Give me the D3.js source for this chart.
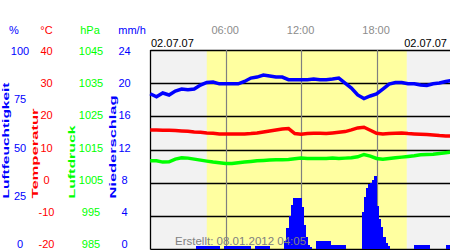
<!DOCTYPE html>
<html>
<head>
<meta charset="utf-8">
<script src="https://cdn.jsdelivr.net/npm/d3@7"></script>
<style>
    body { margin: 0; background: #fff; }
    svg { display: block; font-family: "Liberation Sans", Arial, sans-serif; }
</style>
</head>
<body>
<div id="chart"></div>
<script>

// WEATHER DAY CHART (02.07.07)

// half hour steps, in hours since midnight
const halfHours = [0, 0.5, 1, 1.5, 2, 2.5, 3, 3.5, 4, 4.5, 5, 5.5, 6, 6.5, 7, 7.5, 8, 8.5, 9, 9.5,
    10, 10.5, 11, 11.5, 12, 12.5, 13, 13.5, 14, 14.5, 15, 15.5, 16, 16.5, 17, 17.5, 18, 18.5, 19, 19.5,
    20, 20.5, 21, 21.5, 22, 22.5, 23, 23.5, 24];

// Luftfeuchtigkeit in %
const humidity = [78, 76.5, 78.4, 77.4, 79.4, 80.4, 80, 80.4, 82.4, 83.7, 83.9, 83, 83, 83, 83, 84.2,
    85.9, 86.4, 87.4, 86.9, 86.4, 86.4, 85.1, 85, 85, 85.1, 85.4, 85.1, 85, 85.4, 85.9, 83.4,
    80.9, 77.4, 75.6, 76.9, 77.9, 80.4, 82.9, 83.7, 83.7, 83, 83, 82.4, 82.2, 83, 83.4, 84.2, 84.7];

// Temperatur in °C
const temperature = [15.9, 15.9, 15.8, 15.8, 15.7, 15.6, 15.5, 15.3, 15.2, 15.0, 14.9, 14.7, 14.7, 14.7,
    14.7, 14.7, 14.8, 15.0, 15.3, 15.6, 15.9, 16.2, 16.3, 14.8, 14.6, 14.8, 14.9, 14.9, 14.8, 15.0,
    15.2, 15.4, 15.9, 16.5, 16.7, 15.8, 14.9, 14.7, 14.8, 14.9, 15.0, 14.8, 14.7, 14.6, 14.5, 14.4,
    14.2, 14.1, 14.1];

// Luftdruck in hPa
const pressure = [1011.6, 1011.6, 1011.2, 1011.3, 1012.1, 1012.5, 1012.4, 1012.1, 1011.8, 1011.5,
    1011.2, 1011.0, 1010.8, 1010.8, 1011.0, 1011.2, 1011.4, 1011.6, 1011.7, 1011.8, 1011.9, 1011.9,
    1012.0, 1012.2, 1012.4, 1012.3, 1012.3, 1012.3, 1012.3, 1012.4, 1012.3, 1012.4, 1012.5, 1012.8,
    1013.5, 1013.0, 1012.3, 1012.1, 1012.3, 1012.5, 1012.7, 1012.9, 1013.1, 1013.4, 1013.5, 1013.6,
    1013.8, 1014.0, 1014.2];

// Niederschlag in mm/h, one value per 10 minutes (144 values)
const precipitation = [
    0, 0, 0, 0, 0, 0, 0, 0, 0, 0, 0, 0, 0, 0, 0, 0, 0, 0, 0, 0, 0, 0,
    0.4, 0.4, 0.4, 0.4, 0.4, 0.4, 0.4, 0.4, 0.4, 0.4, 0.4,
    0, 0,
    0.4, 0.4, 0.4, 0.4, 0.4, 0.4, 0.4, 0.4, 0.4, 0.4, 0.4, 0.4, 0.4,
    0, 0,
    0.4, 0.4, 0.4, 0.4, 0.4, 0.4, 0.4,
    0, 0, 0, 0, 0, 0, 0,
    1.0, 2.5, 4.0, 5.3, 6.1, 6.2, 6.2, 6.2, 5.1, 2.9, 1.5, 0.5, 0.3,
    0, 0,
    1.0, 1.0, 1.0, 1.0, 1.0, 1.0, 1.0,
    0.5, 0.5, 0.5, 0.5, 0.5, 0.5, 0.5,
    0, 0, 0, 0, 0, 0, 0, 0,
    4.5, 6.3, 7.3, 7.8, 7.9, 8.3, 8.8, 5.2, 3.6, 2.6, 1.5, 0.7, 0.4,
    0, 0, 0, 0, 0, 0, 0, 0, 0, 0, 0, 0,
    0.5, 0.5, 0.5, 0.5, 0.5, 0.5, 0.5,
    0, 0, 0, 0, 0, 0, 0, 0,
    0.5, 0.5, 0.5
];

// daylight (sunrise, sunset) in hours
const daylight = [4.5, 20.4];

// axis ticks
const humTicks = [100, 75, 50, 25, 0];
const tempTicks = [40, 30, 20, 10, 0, -10, -20];
const presTicks = [1045, 1035, 1025, 1015, 1005, 995, 985];
const rainTicks = [24, 20, 16, 12, 8, 4, 0];
const timeTicks = [6, 12, 18];
const timeLabels = ["06:00", "12:00", "18:00"];

const dateLabel = "02.07.07";
const createdLabel = "Erstellt: 08.01.2012 04:05";


class WeatherVis {

    constructor(_parentElement) {
        this.parentElement = _parentElement;
        this.initVis();
    }

    initVis() {
        let vis = this;

        vis.width = 450;
        vis.height = 250;

        // plot area
        vis.top = 50;
        vis.bottom = 249;
        vis.left = 150.5;
        vis.right = 450;

        vis.svg = d3.select("#" + vis.parentElement).append("svg")
            .attr("width", vis.width)
            .attr("height", vis.height);

        // Scales
        vis.x = d3.scaleLinear().domain([0, 24]).range([150.2, 452]);
        vis.yHum = d3.scaleLinear().domain([0, 100]).range([vis.bottom, vis.top]);
        vis.yTemp = d3.scaleLinear().domain([-20, 40]).range([vis.bottom, vis.top]);
        vis.yPres = d3.scaleLinear().domain([985, 1045]).range([vis.bottom, vis.top]);
        vis.yRain = d3.scaleLinear().domain([0, 24]).range([vis.bottom, vis.top]);

        vis.updateVis();
    }

    updateVis() {
        let vis = this;

        // **************** BACKGROUND *****************

        vis.svg.append("rect")
            .attr("x", vis.left)
            .attr("y", vis.top)
            .attr("width", vis.right - vis.left)
            .attr("height", vis.bottom - vis.top)
            .attr("fill", "#f2f2f2");

        vis.svg.append("rect")
            .attr("x", vis.x(daylight[0]))
            .attr("y", vis.top)
            .attr("width", vis.x(daylight[1]) - vis.x(daylight[0]))
            .attr("height", vis.bottom - vis.top)
            .attr("fill", "#ffffa0");

        // horizontal grid
        vis.svg.append("g")
            .selectAll("line")
            .data(rainTicks)
            .enter()
            .append("line")
            .attr("x1", vis.left)
            .attr("x2", vis.right)
            .attr("y1", d => Math.round(vis.yRain(d)) + 0.5)
            .attr("y2", d => Math.round(vis.yRain(d)) + 0.5)
            .attr("stroke", "black")
            .attr("stroke-width", 1.3);

        // left border
        vis.svg.append("line")
            .attr("x1", vis.left).attr("x2", vis.left)
            .attr("y1", vis.top).attr("y2", vis.bottom + 0.5)
            .attr("stroke", "black")
            .attr("stroke-width", 1.3);

        // vertical time lines
        vis.svg.append("g")
            .selectAll("line")
            .data(timeTicks)
            .enter()
            .append("line")
            .attr("x1", d => Math.round(vis.x(d)) + 0.5)
            .attr("x2", d => Math.round(vis.x(d)) + 0.5)
            .attr("y1", vis.top)
            .attr("y2", vis.bottom)
            .attr("stroke", "#808080")
            .attr("stroke-width", 1.2);

        // **************** PRECIPITATION BARS *****************

        let barW = (vis.x(24) - vis.x(0)) / precipitation.length;

        vis.svg.append("g")
            .attr("shape-rendering", "crispEdges")
            .selectAll("rect")
            .data(precipitation)
            .enter()
            .append("rect")
            .attr("x", (d, i) => vis.x(0) + i * barW)
            .attr("y", d => vis.yRain(d))
            .attr("width", barW + 0.6)
            .attr("height", d => vis.bottom - vis.yRain(d))
            .attr("fill", "#0000ff");

        // created label
        vis.svg.append("text")
            .attr("x", 175)
            .attr("y", 245)
            .attr("font-size", 11.5)
            .attr("fill", "#808080")
            .text(createdLabel);

        // **************** LINES *****************

        let series = [
            {values: humidity, y: vis.yHum, color: "#0000ff"},
            {values: temperature, y: vis.yTemp, color: "#ff0000"},
            {values: pressure, y: vis.yPres, color: "#00ff00"}
        ];

        series.forEach(s => {
            vis.svg.append("path")
                .datum(s.values)
                .attr("fill", "none")
                .attr("stroke", s.color)
                .attr("stroke-width", 3.5)
                .attr("stroke-linejoin", "miter")
                .attr("d", d3.line()
                    .x((d, i) => vis.x(halfHours[i]))
                    .y(d => s.y(d)));
        });

        // **************** TEXT *****************

        // time labels on top
        vis.svg.append("g")
            .selectAll("text")
            .data(timeTicks)
            .enter()
            .append("text")
            .attr("x", d => vis.x(d) - 0.5)
            .attr("y", 34)
            .attr("text-anchor", "middle")
            .attr("font-size", 11)
            .attr("fill", "#8c8c8c")
            .text((d, i) => timeLabels[i]);

        vis.svg.append("text")
            .attr("x", 151)
            .attr("y", 47)
            .attr("font-size", 11)
            .attr("fill", "black")
            .text(dateLabel);

        vis.svg.append("text")
            .attr("x", 447)
            .attr("y", 47)
            .attr("text-anchor", "end")
            .attr("font-size", 11)
            .attr("fill", "black")
            .text(dateLabel);

        // left axes (labels only); tick labels sit a bit higher than the grid towards the bottom
        let axes = [
            {domain: [0, 100], ticks: humTicks, cx: 20, color: "#0000ff", unit: "%", ux: 14, name: "Luftfeuchtigkeit", nx: 9, nlen: 116},
            {domain: [-20, 40], ticks: tempTicks, cx: 46.5, color: "#ff0000", unit: "°C", ux: 46.5, name: "Temperatur", nx: 37.5, nlen: 90},
            {domain: [985, 1045], ticks: presTicks, cx: 91, color: "#00ff00", unit: "hPa", ux: 90, name: "Luftdruck", nx: 75, nlen: 73},
            {domain: [0, 24], ticks: rainTicks, cx: 124.5, color: "#0000ff", unit: "mm/h", ux: 132, name: "Niederschlag", nx: 115.5, nlen: 103}
        ];

        axes.forEach(a => {
            let labelScale = d3.scaleLinear().domain(a.domain).range([244, 50.5]);

            let g = vis.svg.append("g")
                .attr("transform", "translate(" + a.cx + ",0)")
                .call(d3.axisLeft(labelScale)
                    .tickValues(a.ticks)
                    .tickFormat(d => String(d))
                    .tickSize(0)
                    .tickPadding(0));

            g.select(".domain").remove();
            g.selectAll("text")
                .attr("x", 0)
                .attr("dy", "0.36em")
                .attr("text-anchor", "middle")
                .attr("font-size", 11)
                .attr("font-family", "Liberation Sans, Arial, sans-serif")
                .attr("fill", a.color);

            vis.svg.append("text")
                .attr("x", a.ux)
                .attr("y", 33.5)
                .attr("text-anchor", "middle")
                .attr("font-size", 11)
                .attr("fill", a.color)
                .text(a.unit);

            vis.svg.append("text")
                .attr("transform", "translate(" + a.nx + ",198.5) rotate(-90)")
                .attr("font-size", 9)
                .attr("font-weight", "bold")
                .attr("textLength", a.nlen)
                .attr("lengthAdjust", "spacingAndGlyphs")
                .attr("fill", a.color)
                .text(a.name);
        });
    }
}

new WeatherVis("chart");

</script>
</body>
</html>
